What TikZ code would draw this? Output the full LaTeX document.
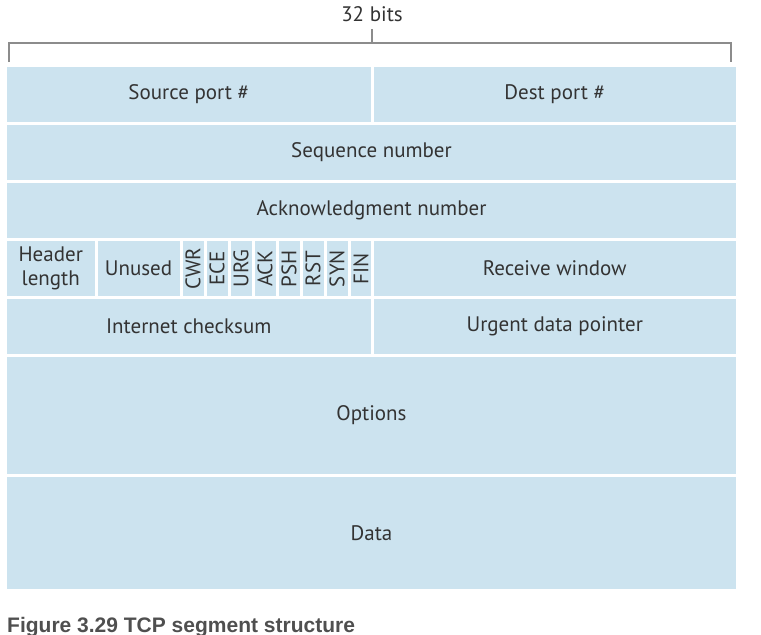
\documentclass[tikz,border=0pt]{standalone}
\usepackage{fontspec}
\setmainfont{PT Sans}
\newfontfamily\capfont{Liberation Sans}
\definecolor{segblue}{HTML}{CCE3EF}
\definecolor{segtext}{HTML}{333333}
\definecolor{segline}{HTML}{8C8C8C}
\definecolor{capgray}{HTML}{4F4F4F}

\begin{document}
\begin{tikzpicture}[x=1pt,y=-1pt,
  field/.style={draw=white, line width=3pt, fill=segblue, text=segtext,
    inner sep=0pt, font=\fontsize{21}{24}\selectfont},
  bracket/.style={draw=segline, line width=1.6pt}]
\useasboundingbox (0,0) rectangle (761,635);

% 32 bits bracket
\node[text=segtext, font=\fontsize{21}{24}\selectfont] (bits) at (372,14) {32 bits};
\coordinate (tick) at (372,29);
\coordinate (bl) at (9,62);
\coordinate (br) at (731,62);
\draw[bracket] (bl) |- (tick |- 0,43) -| (br);
\draw[bracket] (tick) -- (tick |- 0,43);

% rows
\node[field, minimum width=366.5, minimum height=58] (src) at (188.75,94.5) {Source port \#};
\node[field, minimum width=365.5, minimum height=58] (dst) at (554.75,94.5) {Dest port \#};
\node[field, minimum width=732, minimum height=58] (seq) at (371.5,152.5) {Sequence number};
\node[field, minimum width=732, minimum height=58] (ack) at (371.5,210.5) {Acknowledgment number};

\node[field, minimum width=90.5, minimum height=58, align=center] (hlen) at (50.75,268.5) {Header\\length};
\node[field, minimum width=85, minimum height=58] (unused) at (138.5,268.5) {Unused};
\foreach \f [count=\i] in {CWR,ECE,URG,ACK,PSH,RST,SYN,FIN}
  \node[field, rotate=90, minimum width=58, minimum height=24] (flag\i) at (169+24*\i,268.5) {\f};
\node[field, minimum width=365.5, minimum height=58] (rwnd) at (554.75,268.5) {Receive window};

\node[field, minimum width=366.5, minimum height=58] (csum) at (188.75,326.5) {Internet checksum};
\node[field, minimum width=365.5, minimum height=58] (urg) at (554.75,326.5) {Urgent data pointer};

\node[field, minimum width=732, minimum height=120] (opts) at (371.5,415.5) {Options};
\node[field, minimum width=732, minimum height=115] (data) at (371.5,533) {Data};

% caption
\node[anchor=base west, inner sep=0pt, text=capgray, font=\capfont\bfseries\fontsize{21}{24}\selectfont] (cap) at (7,632) {Figure 3.29 TCP segment structure};

\end{tikzpicture}
\end{document}
